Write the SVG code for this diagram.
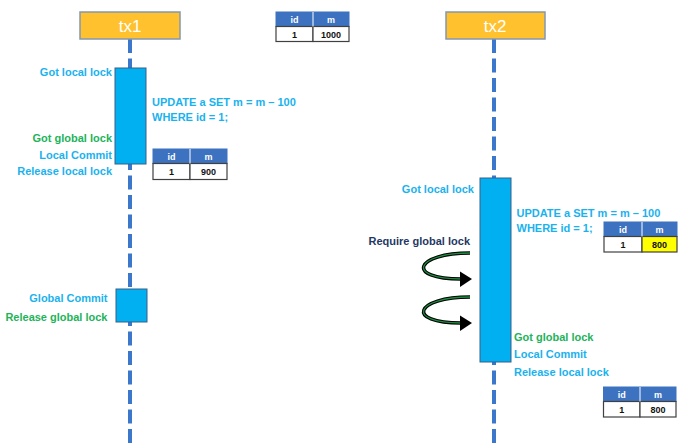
<svg xmlns="http://www.w3.org/2000/svg" width="692" height="445" viewBox="0 0 692 445">
<style>
.head{fill:#FFC12E;stroke:#8497B0;stroke-width:1.5}
.headt{font-family:"Liberation Sans",Arial,sans-serif;font-size:17px;fill:#fff;text-anchor:middle}
.bar{fill:#00B0F0;stroke:#3A5F8A;stroke-width:1}
.life{stroke:#3B78CC;stroke-width:4;stroke-dasharray:14 5.5;fill:none}
.t{font-family:"Liberation Sans",Arial,sans-serif;font-size:11px;font-weight:bold}
.blue{fill:#1AB2EE}
.green{fill:#22B35A}
.navy{fill:#1F3864}
.r{text-anchor:end}
.th{fill:#3D72C0;stroke:#3D72C0;stroke-width:1}
.td{fill:#fff;stroke:#404040;stroke-width:1.2}
.tdy{fill:#FFFF00;stroke:#404040;stroke-width:1.2}
.tht{font-family:"Liberation Sans",Arial,sans-serif;font-size:9px;font-weight:bold;fill:#fff;text-anchor:middle}
.tdt{font-family:"Liberation Sans",Arial,sans-serif;font-size:9px;font-weight:bold;fill:#111;text-anchor:middle}
.loopo{fill:none;stroke:#000;stroke-width:3.5}
.loopi{fill:none;stroke:#1E8A40;stroke-width:1.3}
</style>
<rect width="692" height="445" fill="#fff"/>
<g id="connectors">
<line class="life" x1="130" y1="39" x2="130" y2="443"/>
<line class="life" x1="494" y1="39" x2="494" y2="443"/>
<path class="loopo" d="M470,253 C415,253 405,279 461,279"/>
<path class="loopi" d="M470,253 C415,253 405,279 461,279"/>
<polygon points="460,271.5 472,279 460,287" fill="#000"/>
<path class="loopo" d="M470,297 C415,297 405,323 461,323"/>
<path class="loopi" d="M470,297 C415,297 405,323 461,323"/>
<polygon points="460,315.5 472,323 460,331" fill="#000"/>
</g>
<g id="tx1">
<rect class="head" x="80" y="12" width="100" height="27"/>
<text class="headt" x="130" y="31.5">tx1</text>
</g>
<g id="tx2">
<rect class="head" x="446" y="12" width="99" height="27"/>
<text class="headt" x="495" y="31.5">tx2</text>
</g>
<g id="tx1-bar1"><rect class="bar" x="115" y="68" width="31" height="96"/></g>
<g id="tx1-bar2"><rect class="bar" x="116" y="289" width="31" height="33"/></g>
<g id="tx2-bar"><rect class="bar" x="480" y="178" width="31" height="184"/></g>
<g id="table-1000">
<rect class="th" x="276" y="12" width="73" height="14.5"/>
<rect class="td" x="276" y="26.5" width="37" height="15"/>
<rect class="td" x="313" y="26.5" width="36" height="15"/>
<line x1="313" y1="12" x2="313" y2="26.5" stroke="#fff" stroke-width="1"/>
<text class="tht" x="294.5" y="22.5">id</text>
<text class="tht" x="331" y="22.5">m</text>
<text class="tdt" x="294.5" y="37.5">1</text>
<text class="tdt" x="331" y="37.5">1000</text>
</g>
<g id="table-900">
<rect class="th" x="153" y="149" width="74" height="14.5"/>
<rect class="td" x="153" y="163.5" width="37" height="16"/>
<rect class="td" x="190" y="163.5" width="37" height="16"/>
<line x1="190" y1="149" x2="190" y2="163.5" stroke="#fff" stroke-width="1"/>
<text class="tht" x="171.5" y="159.5">id</text>
<text class="tht" x="208.5" y="159.5">m</text>
<text class="tdt" x="171.5" y="175">1</text>
<text class="tdt" x="208.5" y="175">900</text>
</g>
<g id="table-800-yellow">
<rect class="th" x="604" y="222" width="73" height="14.5"/>
<rect class="td" x="604" y="236.5" width="38" height="15.5"/>
<rect class="tdy" x="642" y="236.5" width="35" height="15.5"/>
<line x1="642" y1="222" x2="642" y2="236.5" stroke="#fff" stroke-width="1"/>
<text class="tht" x="623" y="232.5">id</text>
<text class="tht" x="659.5" y="232.5">m</text>
<text class="tdt" x="623" y="247.5">1</text>
<text class="tdt" x="659.5" y="247.5">800</text>
</g>
<g id="table-800">
<rect class="th" x="603.5" y="387" width="72.5" height="14.5"/>
<rect class="td" x="603.5" y="401.5" width="36.5" height="15.5"/>
<rect class="td" x="640" y="401.5" width="36" height="15.5"/>
<line x1="640" y1="387" x2="640" y2="401.5" stroke="#fff" stroke-width="1"/>
<text class="tht" x="621.75" y="397.5">id</text>
<text class="tht" x="658" y="397.5">m</text>
<text class="tdt" x="621.75" y="412.5">1</text>
<text class="tdt" x="658" y="412.5">800</text>
</g>
<g id="tx1-labels">
<text class="t blue r" x="112" y="76">Got local lock</text>
<text class="t blue" x="152" y="106">UPDATE a SET m = m – 100</text>
<text class="t blue" x="152" y="121">WHERE id = 1;</text>
<text class="t green r" x="112" y="142">Got global lock</text>
<text class="t blue r" x="112" y="159">Local Commit</text>
<text class="t blue r" x="112" y="174.5">Release local lock</text>
<text class="t blue r" x="107.5" y="302">Global Commit</text>
<text class="t green r" x="107.5" y="320.5">Release global lock</text>
</g>
<g id="tx2-labels">
<text class="t blue r" x="474" y="193">Got local lock</text>
<text class="t blue" x="516.5" y="217">UPDATE a SET m = m – 100</text>
<text class="t blue" x="516.5" y="231.5">WHERE id = 1;</text>
<text class="t navy r" x="470" y="244.5">Require global lock</text>
<text class="t green" x="514" y="340.5">Got global lock</text>
<text class="t blue" x="514" y="357.5">Local Commit</text>
<text class="t blue" x="514" y="376">Release local lock</text>
</g>
</svg>
